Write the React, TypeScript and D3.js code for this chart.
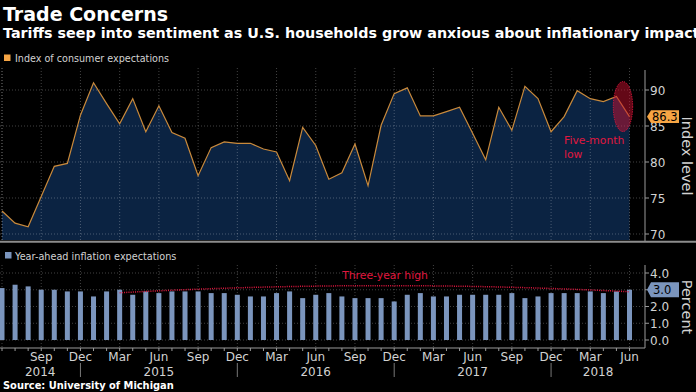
import { useMemo } from 'react';
import * as d3 from 'd3';

const W = 696;
const H = 392;
const FONT = '"DejaVu Sans", Verdana, sans-serif';

// Jun 2014 .. Jun 2018, one entry per month
const MONTHS = d3.timeMonths(new Date(2014, 5, 1), new Date(2018, 6, 1));
const EXPECTATIONS = [
  73.2, 71.5, 71.0, 75.2, 79.4, 79.8, 86.5, 91.0, 88.1, 85.3, 88.8, 84.2, 87.8,
  84.1, 83.3, 78.1, 82.0, 82.8, 82.6, 82.6, 81.8, 81.4, 77.4, 84.8, 82.3, 77.6,
  78.5, 82.5, 76.7, 85.1, 89.5, 90.3, 86.4, 86.4, 87.0, 87.6, 84.0, 80.3, 87.6,
  84.4, 90.5, 88.8, 84.2, 86.3, 89.9, 88.8, 88.4, 89.1, 86.3,
];
const INFLATION = [
  3.1, 3.3, 3.2, 3.0, 3.0, 2.9, 2.9, 2.6, 2.9, 3.0, 2.7, 2.9, 2.8,
  2.9, 2.9, 2.9, 2.8, 2.8, 2.7, 2.6, 2.6, 2.8, 2.9, 2.5, 2.7, 2.8,
  2.6, 2.5, 2.5, 2.5, 2.3, 2.7, 2.8, 2.6, 2.6, 2.7, 2.7, 2.7, 2.7,
  2.8, 2.5, 2.6, 2.8, 2.8, 2.8, 2.9, 2.8, 2.9, 3.0,
];
const TOP_TICKS = [70, 75, 80, 85, 90];
const BOTTOM_TICKS = [0, 1, 2, 3, 4];
const MONTH_NAMES = ['Jan', 'Feb', 'Mar', 'Apr', 'May', 'Jun', 'Jul', 'Aug', 'Sep', 'Oct', 'Nov', 'Dec'];

const C = {
  bg: '#000000',
  area: '#0b2342',
  line: '#c98a3c',
  orange: '#f6a544',
  bar: '#7b95bd',
  text: '#d2d2d2',
  axis: '#9a9a9a',
  grid: 'rgba(255,255,255,0.26)',
  red: '#e0173f',
};

export default function App() {
  const axisX = 645;
  const x = useMemo(() => d3.scalePoint<number>().domain(d3.range(MONTHS.length)).range([2, 629.5]), []);
  const yTop = d3.scaleLinear().domain([70, 90]).range([234, 90]);
  const yBot = d3.scaleLinear().domain([0, 4]).range([340, 273]);
  const topPlot = { top: 68, bottom: 240 };
  const botPlot = { top: 265, bottom: 348 };

  const idx = d3.range(MONTHS.length);
  const quarters = idx.filter((i) => MONTHS[i].getMonth() % 3 === 2);
  const decs = idx.filter((i) => MONTHS[i].getMonth() === 11);

  const area = d3.area<number>().x((i) => x(i)!).y0(topPlot.bottom).y1((i) => yTop(EXPECTATIONS[i]));
  const line = d3.line<number>().x((i) => x(i)!).y((i) => yTop(EXPECTATIONS[i]));

  // Year segments for the year labels
  const bounds = [0, ...decs.map((i) => x(i)!), axisX];
  const years = d3.range(bounds.length - 1).map((k) => ({
    year: 2014 + k,
    cx: (bounds[k] + bounds[k + 1]) / 2,
  }));

  // "Three-year high" arc
  const arc = d3.path();
  arc.moveTo(x(9)!, yBot(2.82));
  arc.quadraticCurveTo((x(28)! + x(29)!) / 2, yBot(3.64), x(48)!, yBot(2.88));

  const last = EXPECTATIONS.length - 1;
  const callout = (cy: number, h: number) =>
    `M${axisX + 2},${cy} L${axisX + 6},${cy - h} L${axisX + 34},${cy - h} L${axisX + 34},${cy + h} L${axisX + 6},${cy + h} Z`;

  const barW = 5;

  return (
    <svg width={W} height={H} style={{ position: 'fixed', left: 0, top: 0, background: C.bg }} fontFamily={FONT}>
      <rect width={W} height={H} fill={C.bg} />

      {/* Titles */}
      <text x={3} y={21} fill="#fff" fontSize={19} fontWeight={700}>Trade Concerns</text>
      <text x={3} y={37.5} fill="#fff" fontSize={14.3} fontWeight={700}>
        Tariffs seep into sentiment as U.S. households grow anxious about inflationary impact
      </text>

      {/* Top legend */}
      <rect x={4} y={54.5} width={6.5} height={6.5} fill={C.orange} />
      <text x={15} y={62} fill={C.text} fontSize={9.6}>Index of consumer expectations</text>

      {/* Top panel */}
      <path d={area(idx) ?? ''} fill={C.area} />
      {TOP_TICKS.map((t) => (
        <line key={t} x1={0} x2={axisX} y1={yTop(t)} y2={yTop(t)} stroke={C.grid} strokeDasharray="1,2" />
      ))}
      {quarters.concat([0]).map((i) => (
        <line key={i} x1={x(i)} x2={x(i)} y1={topPlot.top} y2={topPlot.bottom} stroke={C.grid} strokeDasharray="1,2" />
      ))}
      <path d={line(idx) ?? ''} fill="none" stroke={C.line} strokeWidth={1.2} />
      <ellipse
        cx={(x(last - 1)! + x(last)!) / 2}
        cy={yTop(87.7)}
        rx={9.7}
        ry={25}
        fill="rgba(200,16,46,0.5)"
        stroke={C.red}
        strokeDasharray="1.2,1.2"
      />
      <text x={564} y={144} fill={C.red} fontSize={10.8}>Five-month</text>
      <text x={564} y={157.5} fill={C.red} fontSize={10.8}>low</text>

      <line x1={axisX} x2={axisX} y1={70} y2={242} stroke={C.axis} />
      {TOP_TICKS.map((t) => (
        <g key={t}>
          <line x1={axisX} x2={axisX + 4} y1={yTop(t)} y2={yTop(t)} stroke={C.axis} />
          <text x={axisX + 5} y={yTop(t) + 4.5} fill={C.text} fontSize={12}>{t}</text>
        </g>
      ))}
      <path d={callout(yTop(EXPECTATIONS[last]), 6.3)} fill={C.orange} />
      <text x={axisX + 7} y={yTop(EXPECTATIONS[last]) + 4.2} fill="#000" fontSize={11.5}>
        {EXPECTATIONS[last].toFixed(1)}
      </text>
      <text transform={`translate(682,156) rotate(90)`} textAnchor="middle" fill={C.text} fontSize={14.5}>
        Index level
      </text>

      {/* Panel divider */}
      <line x1={0} x2={W} y1={241.8} y2={241.8} stroke="#8c8c8c" strokeWidth={2} />

      {/* Bottom legend */}
      <rect x={5} y={252} width={6.5} height={6.5} fill={C.bar} />
      <text x={15} y={259.5} fill={C.text} fontSize={9.7}>Year-ahead inflation expectations</text>

      {/* Bottom panel */}
      {BOTTOM_TICKS.map((t) => (
        <line key={t} x1={0} x2={axisX} y1={yBot(t)} y2={yBot(t)} stroke={C.grid} strokeDasharray="1,2" />
      ))}
      {quarters.map((i) => (
        <line key={i} x1={x(i)} x2={x(i)} y1={botPlot.top} y2={botPlot.bottom} stroke={C.grid} strokeDasharray="1,2" />
      ))}
      {INFLATION.map((v, i) => (
        <rect key={i} x={Math.max(0, x(i)! - barW / 2)} width={i === 0 ? x(i)! + barW / 2 : barW} y={yBot(v)} height={yBot(0) - yBot(v)} fill={C.bar} />
      ))}
      <path d={arc.toString()} fill="none" stroke={C.red} strokeWidth={1.5} strokeDasharray="1,1.2" />
      <text x={385} y={279} textAnchor="middle" fill={C.red} fontSize={10.8}>Three-year high</text>

      <line x1={axisX} x2={axisX} y1={botPlot.top} y2={botPlot.bottom} stroke={C.axis} />
      <line x1={0} x2={axisX} y1={botPlot.bottom} y2={botPlot.bottom} stroke={C.axis} />
      {BOTTOM_TICKS.map((t) => (
        <g key={t}>
          <line x1={axisX} x2={axisX + 4} y1={yBot(t)} y2={yBot(t)} stroke={C.axis} />
          {/* the 3.0 label sits under the last-value callout */}
          {t !== INFLATION[last] && (
            <text x={axisX + 5} y={yBot(t) + 4.5} fill={C.text} fontSize={12}>{t.toFixed(1)}</text>
          )}
        </g>
      ))}
      <path d={callout(yBot(INFLATION[last]), 7.5)} fill={C.bar} />
      <text x={axisX + 8} y={yBot(INFLATION[last]) + 4.2} fill="#000" fontSize={11.5}>
        {INFLATION[last].toFixed(1)}
      </text>
      <text transform={`translate(682,307) rotate(90)`} textAnchor="middle" fill={C.text} fontSize={14.5}>
        Percent
      </text>

      {/* X axis */}
      {idx.map((i) => (
        <line key={i} x1={x(i)} x2={x(i)} y1={botPlot.bottom} y2={botPlot.bottom + 3} stroke={C.axis} />
      ))}
      {quarters.filter((i) => i > 0).map((i) => (
        <text key={i} x={x(i)} y={361} textAnchor="middle" fill={C.text} fontSize={12}>
          {MONTH_NAMES[MONTHS[i].getMonth()]}
        </text>
      ))}
      {decs.map((i) => (
        <line key={i} x1={x(i)} x2={x(i)} y1={363} y2={377} stroke="#777" />
      ))}
      {years.map((yr) => (
        <text key={yr.year} x={yr.cx} y={375.5} textAnchor="middle" fill={C.text} fontSize={12}>
          {yr.year}
        </text>
      ))}

      <text x={3} y={389} fill="#fff" fontSize={9.9} fontWeight={700}>Source: University of Michigan</text>
    </svg>
  );
}
